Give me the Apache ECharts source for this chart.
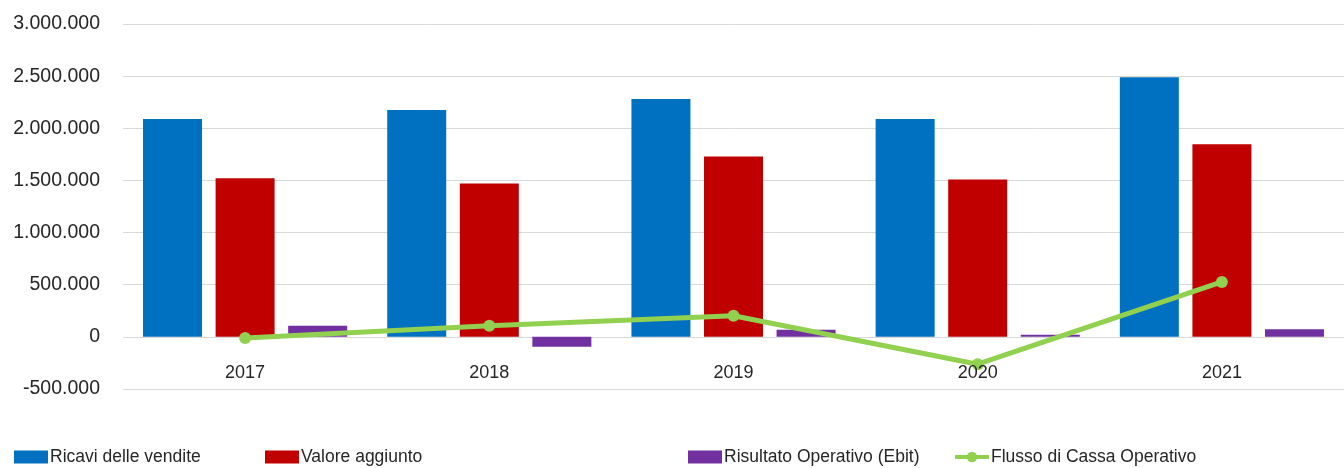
<!DOCTYPE html>
<html><head><meta charset="utf-8">
<script src="https://cdn.jsdelivr.net/npm/echarts@6/dist/echarts.min.js"></script>
<style>html,body{margin:0;padding:0;background:#fff}#c{width:1344px;height:468px}</style>
</head><body><div id="c"></div>
<script>
const categories = ['2017','2018','2019','2020','2021'];
const ricavi = [2090000, 2175000, 2280000, 2090000, 2490000];
const valoreAggiunto = [1520000, 1470000, 1730000, 1510000, 1846000];
const ebit = [106000, -96000, 67000, 20000, 74000];
const flusso = [-10000, 106000, 202000, -262000, 527000];
const seriesNames = ['Ricavi delle vendite','Valore aggiunto','Risultato Operativo (Ebit)','Flusso di Cassa Operativo'];

function fmt(v){ return v.toString().replace(/\B(?=(\d{3})+(?!\d))/g,'.'); }
const legendFont = {fontFamily:'"Liberation Sans",Arial,sans-serif', fontSize:17.5, color:'#262626'};
const legendLefts = [14, 265, 688, 953];
const chart = echarts.init(document.getElementById('c'), null, {renderer:'canvas'});
chart.setOption({
  animation:false,
  grid:{left:123, right:0, top:24, bottom:79, containLabel:false},
  legend: seriesNames.map((n,i)=>({
    data:[{name:n, icon: i===3 ? undefined : 'rect'}], left:legendLefts[i], top:448, padding:0,
    itemWidth:34, itemHeight: 13, itemGap:0,
    lineStyle:{width:4},
    textStyle:Object.assign({padding:[0,0,0,-3]}, legendFont),
    selectedMode:false
  })),
  xAxis:{type:'category', data:categories, offset:-52, z:6,
    axisLine:{show:false, onZero:false},
    axisTick:{show:false},
    axisLabel:{margin:27, fontSize:18, color:'#262626', fontFamily:'"Liberation Sans",Arial,sans-serif'}},
  yAxis:{type:'value', min:-500000, max:3000000, interval:500000,
    axisLine:{show:false}, axisTick:{show:false},
    splitLine:{lineStyle:{color:'#d9d9d9', width:1}},
    axisLabel:{margin:23, fontSize:19.5, color:'#262626', fontFamily:'"Liberation Sans",Arial,sans-serif',
      formatter:v=>fmt(v)}},
  series:[
    {name:seriesNames[0], type:'bar', data:ricavi, barWidth:59, barGap:'23%', itemStyle:{color:'#0070C0'}},
    {name:seriesNames[1], type:'bar', data:valoreAggiunto, barWidth:59, barGap:'23%', itemStyle:{color:'#C00000'}},
    {name:seriesNames[2], type:'bar', data:ebit, barWidth:59, barGap:'23%', itemStyle:{color:'#7030A0'}},
    {name:seriesNames[3], type:'line', data:flusso, symbol:'circle', symbolSize:12, z:5,
      lineStyle:{color:'#92D050', width:5}, itemStyle:{color:'#92D050'}}
  ]
});
</script></body></html>
